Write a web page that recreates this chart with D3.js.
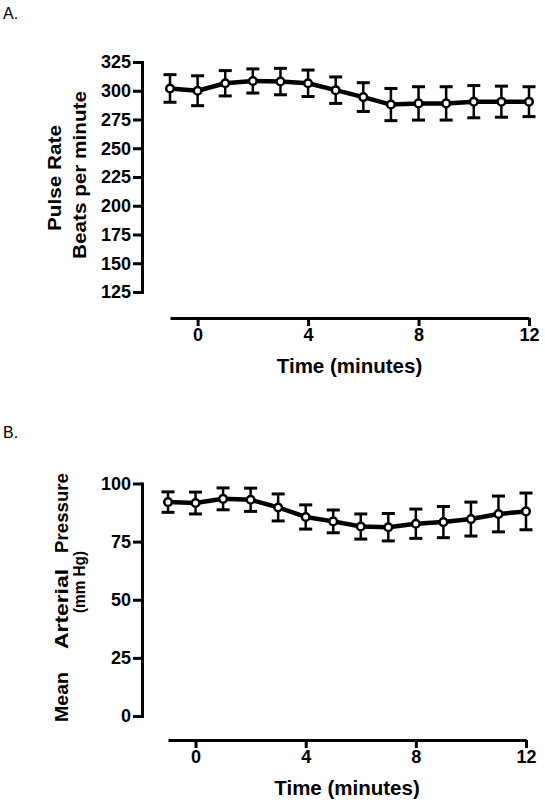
<!DOCTYPE html>
<html>
<head>
<meta charset="utf-8">
<script src="https://cdn.jsdelivr.net/npm/d3@7"></script>
<style>
  html, body { margin: 0; padding: 0; background: #fff; }
  svg { display: block; font-family: "Liberation Sans", Arial, sans-serif; }
</style>
</head>
<body>
<svg id="chart" width="545" height="806"></svg>
<script>
// ---- Data ----
const timeMinutes = [-1, 0, 1, 2, 3, 4, 5, 6, 7, 8, 9, 10, 11, 12];

const pulseRateMean = [302, 300, 306.5, 308.5, 308, 306.5, 300.5, 294.5, 288, 289, 289, 290.5, 290.5, 290.5];
const pulseRateErr  = [12, 13, 11, 10.5, 11.5, 11.5, 11.5, 12.5, 14, 14.5, 14.5, 14, 13.5, 13];

const mapMean = [92, 91.6, 93.4, 93, 89.7, 85.6, 83.7, 81.5, 81.2, 82.7, 83.4, 84.7, 86.9, 88];
const mapErr  = [4.4, 4.7, 4.7, 5, 5.8, 5.2, 4.9, 5.4, 5.9, 6.3, 6.7, 7.3, 7.7, 7.9];

const xTickValues = [0, 4, 8, 12];
const pulseTicks = [125, 150, 175, 200, 225, 250, 275, 300, 325];
const mapTicks = [0, 25, 50, 75, 100];

const svg = d3.select("#chart");

function panel(opts) {
  const g = svg.append("g");
  const x = d3.scaleLinear().domain([-1, 12]).range(opts.xRange);
  const y = d3.scaleLinear().domain(opts.yDomain).range(opts.yRange);

  // Y axis
  const yAxis = g.append("g")
    .attr("transform", `translate(${opts.yAxisX},0)`)
    .call(d3.axisLeft(y).tickValues(opts.yTicks).tickSize(9).tickSizeOuter(0).tickPadding(2));
  yAxis.selectAll("path, line").attr("stroke", "#000").attr("stroke-width", 3);
  yAxis.select("path").attr("stroke-linecap", "square");
  yAxis.selectAll("text").attr("font-size", 18).attr("font-weight", "bold").attr("fill", "#000")
    .attr("font-family", "Liberation Sans, Arial, sans-serif");

  // X axis
  const xAxis = g.append("g")
    .attr("transform", `translate(0,${opts.xAxisY})`)
    .call(d3.axisBottom(x).tickValues(xTickValues).tickSize(8).tickSizeOuter(0).tickPadding(2));
  xAxis.selectAll("path, line").attr("stroke", "#000").attr("stroke-width", 3);
  xAxis.selectAll("text").attr("font-size", 18).attr("font-weight", "bold").attr("fill", "#000")
    .attr("font-family", "Liberation Sans, Arial, sans-serif");

  // X title
  g.append("text")
    .attr("x", (opts.xRange[0] + opts.xRange[1]) / 2)
    .attr("y", opts.xTitleY)
    .attr("text-anchor", "middle")
    .attr("font-size", 20.5).attr("font-weight", "bold")
    .text("Time (minutes)");

  const data = timeMinutes.map((t, i) => ({ t, m: opts.mean[i], e: opts.err[i] }));

  // Error bars
  const eb = g.append("g").attr("stroke", "#000");
  eb.selectAll("line.v").data(data).join("line").attr("class", "v")
    .attr("x1", d => x(d.t)).attr("x2", d => x(d.t))
    .attr("y1", d => y(d.m + d.e)).attr("y2", d => y(d.m - d.e))
    .attr("stroke-width", 2.5);
  eb.selectAll("line.top").data(data).join("line").attr("class", "top")
    .attr("x1", d => x(d.t) - 6.5).attr("x2", d => x(d.t) + 6.5)
    .attr("y1", d => y(d.m + d.e)).attr("y2", d => y(d.m + d.e))
    .attr("stroke-width", 3);
  eb.selectAll("line.bot").data(data).join("line").attr("class", "bot")
    .attr("x1", d => x(d.t) - 6.5).attr("x2", d => x(d.t) + 6.5)
    .attr("y1", d => y(d.m - d.e)).attr("y2", d => y(d.m - d.e))
    .attr("stroke-width", 3);

  // Line
  g.append("path").datum(data)
    .attr("fill", "none").attr("stroke", "#000").attr("stroke-width", 4.5)
    .attr("stroke-linejoin", "round")
    .attr("d", d3.line().x(d => x(d.t)).y(d => y(d.m)));

  // Markers
  g.selectAll("circle").data(data).join("circle")
    .attr("cx", d => x(d.t)).attr("cy", d => y(d.m)).attr("r", 3.8)
    .attr("fill", "#fff").attr("stroke", "#000").attr("stroke-width", 2.5);

  return { g, x, y };
}

// Panel A
panel({
  xRange: [170, 529], yDomain: [125, 325], yRange: [292, 62],
  yAxisX: 142, xAxisY: 318, xTitleY: 373,
  yTicks: pulseTicks, mean: pulseRateMean, err: pulseRateErr
});

// Panel B
panel({
  xRange: [168, 526], yDomain: [0, 100], yRange: [716, 483.5],
  yAxisX: 142, xAxisY: 740, xTitleY: 795,
  yTicks: mapTicks, mean: mapMean, err: mapErr
});

// Panel letters
svg.append("text").attr("x", 3).attr("y", 19).attr("font-size", 16).text("A.");
svg.append("text").attr("x", 3).attr("y", 438).attr("font-size", 16).text("B.");

// Y titles (rotated; bx = baseline x, cy = centre along the axis, len = drawn length)
function yTitle(text, bx, cy, size, len) {
  svg.append("text")
    .attr("transform", `translate(${bx},${cy}) rotate(-90)`)
    .attr("text-anchor", "middle")
    .attr("font-size", size).attr("font-weight", "bold")
    .attr("fill", "#000")
    .attr("textLength", len)
    .attr("lengthAdjust", "spacingAndGlyphs")
    .text(text);
}
yTitle("Pulse Rate", 61, 178, 19, 106);
yTitle("Beats per minute", 86, 175, 19, 168);
yTitle("Mean", 68, 697, 18.5, 50);
yTitle("Arterial", 68, 609, 18.5, 80);
yTitle("Pressure", 68, 513, 18.5, 80);
yTitle("(mm Hg)", 85, 582, 16, 62);
</script>
</body>
</html>
